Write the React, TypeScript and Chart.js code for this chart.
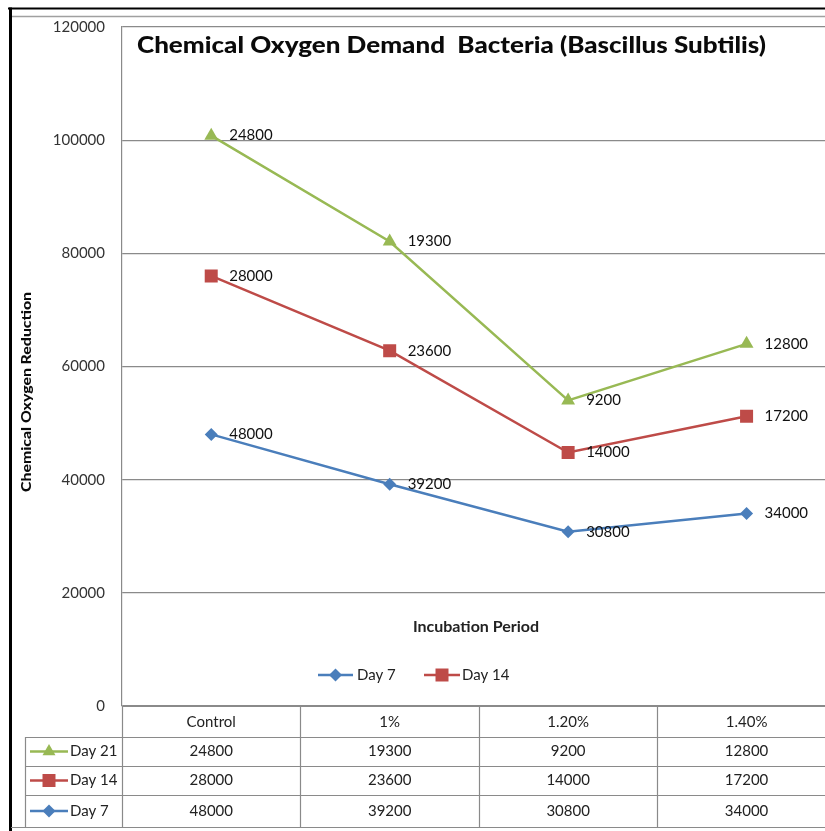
import React, { useEffect, useRef } from "react";
import { Chart, registerables } from "chart.js";

Chart.register(...registerables);

const categories = ["Control", "1%", "1.20%", "1.40%"];
const day7 = [48000, 39200, 30800, 34000];
const day14 = [28000, 23600, 14000, 17200];
const day21 = [24800, 19300, 9200, 12800];
const seriesNames = ["Day 7", "Day 14", "Day 21"];
const yMin = 0;
const yMax = 120000;
const yStep = 20000;
const titleText = "Chemical Oxygen Demand  Bacteria (Bascillus Subtilis)";
const yTitleText = "Chemical Oxygen Reduction";
const xTitleText = "Incubation Period";

const BLUE = "#4A7EBB";
const RED = "#BE4B48";
const GREEN = "#98B954";
const GRID = "#8a8a8a";
const FONT = "Lato, 'Open Sans', sans-serif";

function drawMarker(ctx: CanvasRenderingContext2D, style: string, x: number, y: number, color: string) {
  ctx.save();
  ctx.fillStyle = color;
  ctx.beginPath();
  if (style === "rectRot") {
    const r = 6.5;
    ctx.moveTo(x, y - r);
    ctx.lineTo(x + r, y);
    ctx.lineTo(x, y + r);
    ctx.lineTo(x - r, y);
    ctx.closePath();
  } else if (style === "rect") {
    const s = 6.5;
    ctx.rect(x - s, y - s, 2 * s, 2 * s);
  } else {
    const r = 7.5;
    ctx.moveTo(x, y - r);
    ctx.lineTo(x + r * 0.866, y + r * 0.5);
    ctx.lineTo(x - r * 0.866, y + r * 0.5);
    ctx.closePath();
  }
  ctx.fill();
  ctx.restore();
}

function drawKey(ctx: CanvasRenderingContext2D, x0: number, x1: number, y: number, color: string, style: string) {
  ctx.save();
  ctx.strokeStyle = color;
  ctx.lineWidth = 2.5;
  ctx.beginPath();
  ctx.moveTo(x0, y);
  ctx.lineTo(x1, y);
  ctx.stroke();
  ctx.restore();
  drawMarker(ctx, style, (x0 + x1) / 2, y, color);
}

const decorPlugin = {
  id: "decor",
  afterDraw(chart: any) {
    const ctx: CanvasRenderingContext2D = chart.ctx;
    const area = chart.chartArea;
    const xs = chart.scales.x;
    const W = chart.width;
    const H = chart.height;
    ctx.save();

    // outer frame
    ctx.strokeStyle = "#000";
    ctx.lineWidth = 2;
    ctx.beginPath();
    ctx.moveTo(8, 8.5);
    ctx.lineTo(W, 8.5);
    ctx.stroke();
    ctx.lineWidth = 3;
    ctx.beginPath();
    ctx.moveTo(10.5, 7.5);
    ctx.lineTo(10.5, H);
    ctx.stroke();
    ctx.strokeStyle = "#a0a0a0";
    ctx.lineWidth = 1.5;
    ctx.beginPath();
    ctx.moveTo(12, 16.5);
    ctx.lineTo(W, 16.5);
    ctx.stroke();

    // title
    ctx.fillStyle = "#0a0a0a";
    ctx.font = `900 22px ${FONT}`;
    ctx.textBaseline = "middle";
    ctx.textAlign = "left";
    const tw = ctx.measureText(titleText).width;
    const target = 629;
    ctx.save();
    ctx.translate(137, 46);
    ctx.scale(target / tw, 1);
    ctx.fillText(titleText, 0, 0);
    ctx.restore();

    // y title
    ctx.save();
    ctx.translate(26, 392);
    ctx.rotate(-Math.PI / 2);
    ctx.font = `900 14px ${FONT}`;
    ctx.textAlign = "center";
    const yw = ctx.measureText(yTitleText).width;
    ctx.scale(200 / yw, 1);
    ctx.fillText(yTitleText, 0, 0);
    ctx.restore();

    // x title
    ctx.font = `bold 16px ${FONT}`;
    ctx.textAlign = "center";
    ctx.fillStyle = "#222";
    ctx.fillText(xTitleText, 476, 627);

    // legend (Day 7, Day 14)
    ctx.font = `15px ${FONT}`;
    ctx.textAlign = "left";
    drawKey(ctx, 318, 353, 675, BLUE, "rectRot");
    ctx.fillStyle = "#222";
    ctx.fillText(seriesNames[0], 357, 675);
    drawKey(ctx, 424, 460, 675, RED, "rect");
    ctx.fillStyle = "#222";
    ctx.fillText(seriesNames[1], 462, 675);

    // data labels
    const rawSets = [day7, day14, day21];
    ctx.font = `15px ${FONT}`;
    ctx.fillStyle = "#111";
    ctx.textAlign = "left";
    ctx.textBaseline = "middle";
    chart.data.datasets.forEach((ds: any, di: number) => {
      const meta = chart.getDatasetMeta(di);
      meta.data.forEach((pt: any, i: number) => {
        ctx.fillText(String(rawSets[di][i]), pt.x + 18, pt.y);
      });
    });

    // data table
    const colW = (area.right - area.left) / categories.length;
    const rowTops = [706, 737, 766, 795, 827];
    ctx.strokeStyle = GRID;
    ctx.lineWidth = 1.2;
    ctx.beginPath();
    ctx.moveTo(area.left, rowTops[0] + 0.5);
    ctx.lineTo(W, rowTops[0] + 0.5);
    for (let r = 1; r < 4; r++) {
      ctx.moveTo(25, rowTops[r] + 0.5);
      ctx.lineTo(W, rowTops[r] + 0.5);
    }
    ctx.moveTo(11, rowTops[4] + 0.5);
    ctx.lineTo(W, rowTops[4] + 0.5);
    for (let c = 0; c <= categories.length; c++) {
      const x = Math.round(area.left + c * colW) + 0.5;
      ctx.moveTo(x, rowTops[0]);
      ctx.lineTo(x, rowTops[4]);
    }
    ctx.moveTo(25.5, rowTops[1]);
    ctx.lineTo(25.5, rowTops[4]);
    ctx.stroke();

    ctx.font = `15px ${FONT}`;
    ctx.fillStyle = "#222";
    ctx.textAlign = "center";
    ctx.textBaseline = "middle";
    categories.forEach((c, i) => {
      ctx.fillText(c, xs.getPixelForValue(i), (rowTops[0] + rowTops[1]) / 2 + 1);
    });
    const tableRows = [
      { name: seriesNames[2], vals: day21, color: GREEN, style: "triangle" },
      { name: seriesNames[1], vals: day14, color: RED, style: "rect" },
      { name: seriesNames[0], vals: day7, color: BLUE, style: "rectRot" },
    ];
    tableRows.forEach((row, r) => {
      const cy = (rowTops[r + 1] + rowTops[r + 2]) / 2;
      drawKey(ctx, 30, 68, cy, row.color, row.style);
      ctx.fillStyle = "#222";
      ctx.textAlign = "left";
      ctx.fillText(row.name, 70, cy);
      ctx.textAlign = "center";
      row.vals.forEach((v, i) => {
        ctx.fillText(String(v), xs.getPixelForValue(i), cy);
      });
    });

    ctx.restore();
  },
};

export default function App() {
  const ref = useRef<HTMLCanvasElement | null>(null);
  useEffect(() => {
    if (!ref.current) return;
    const chart = new Chart(ref.current, {
      type: "line",
      data: {
        labels: categories,
        datasets: [
          {
            label: seriesNames[0],
            data: day7,
            borderColor: BLUE,
            backgroundColor: BLUE,
            borderWidth: 2.5,
            pointStyle: "rectRot",
            pointRadius: 6.5,
            pointBorderWidth: 0,
            fill: false,
          },
          {
            label: seriesNames[1],
            data: day14,
            borderColor: RED,
            backgroundColor: RED,
            borderWidth: 2.5,
            pointStyle: "rect",
            pointRadius: 9.2,
            pointBorderWidth: 0,
            fill: false,
          },
          {
            label: seriesNames[2],
            data: day21,
            borderColor: GREEN,
            backgroundColor: GREEN,
            borderWidth: 2.5,
            pointStyle: "triangle",
            pointRadius: 8,
            pointBorderWidth: 0,
            fill: false,
          },
        ],
      },
      options: {
        animation: false,
        responsive: false,
        layout: { padding: { left: 0, top: 27, right: 7, bottom: 125 } },
        plugins: { legend: { display: false }, tooltip: { enabled: false }, title: { display: false } },
        scales: {
          x: { display: false, offset: true, grid: { display: false } },
          y: {
            stacked: true,
            min: yMin,
            max: yMax,
            afterFit: (scale: any) => {
              scale.width = 122;
            },
            ticks: {
              stepSize: yStep,
              padding: 17,
              color: "#333",
              font: { family: "Lato", size: 15 },
              callback: (v: any) => String(v),
            },
            grid: { color: GRID, lineWidth: 1.2, drawTicks: false },
            border: { display: true, color: GRID, width: 1.2 },
          },
        },
      },
      plugins: [decorPlugin],
    });
    return () => chart.destroy();
  }, []);
  return (
    <div style={{ position: "absolute", left: 0, top: 0, width: 825, height: 831, overflow: "hidden", background: "#fff" }}>
      <canvas ref={ref} width={845} height={831} style={{ width: 845, height: 831, display: "block" }} />
    </div>
  );
}
